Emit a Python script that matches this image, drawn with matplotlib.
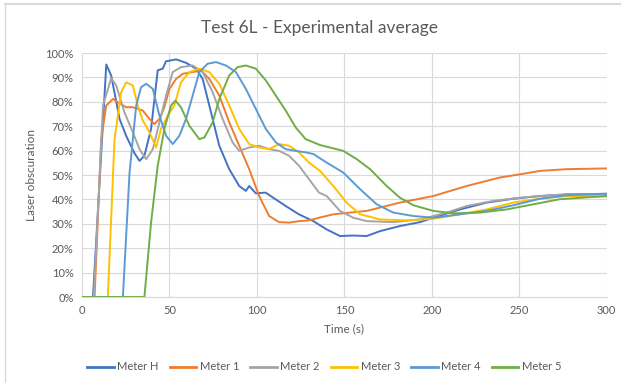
import matplotlib.pyplot as plt
from matplotlib.lines import Line2D
from matplotlib.ticker import PercentFormatter

# values (time in s, obscuration in %)
meter_h_t = [0, 6.3, 13.9, 16.7, 21.5, 25.3, 30, 32.9, 35.7, 39.5, 43.3, 46.2, 48, 53.8, 59.5,
             65.2, 69, 72.8, 78.5, 84.2, 89.9, 93.7, 95.6, 99.4, 105, 110.8, 116.5, 124, 132.3,
             139.9, 147.5, 155.1, 162.8, 170.4, 181.8, 193.3, 200.9, 216.1, 231.4, 246.6, 261.9,
             277.1, 300]
meter_h_v = [0, 0, 95.3, 90.8, 73, 66, 59, 55.8, 57.9, 68.9, 92.9, 93.6, 96.6, 97.4, 96,
             93.6, 89.4, 78.5, 62, 52.4, 45.5, 43.5, 45.5, 42.5, 42.8, 40, 37.3, 33.9, 31.1,
             27.7, 25, 25.2, 25, 27, 29.1, 30.7, 32.5, 35.9, 38.7, 40.3, 41.4,
             42.1, 42.1]

meter_1_t = [0, 7.2, 11, 13.9, 17.7, 20.5, 25.3, 29.1, 34.8, 38.6, 41.4, 44.3, 47.1, 50, 53.8,
             57.6, 63.3, 68, 72.8, 78.5, 84.2, 89.9, 95.6, 101.3, 107, 112.7, 118.4, 124.1,
             129.8, 135.5, 143.7, 162.8, 181.8, 200.9, 219.9, 239, 250.4, 261.9, 277.1, 300]
meter_1_v = [0, 0, 64.7, 78.5, 81.2, 79.8, 77.8, 77.8, 76.4, 73, 70.9, 73, 77.8, 85.3, 89.4,
             91.5, 92.2, 92.9, 89.4, 82.6, 71.6, 62, 52.4, 41.4, 33.2, 30.7, 30.5, 31.1,
             31.4, 32.5, 33.9, 35.3, 38.7, 41.4, 45.5, 49, 50.3, 51.7, 52.4, 52.7]

meter_2_t = [0, 6.8, 12, 16.7, 19.6, 24.3, 29.1, 32.9, 36.7, 40.5, 44.3, 48.1, 51.9, 56.6, 63.3,
             69, 74.7, 80.4, 86.1, 89.9, 95.6, 101.3, 107, 112.7, 118.4, 124.1, 129.8, 135.5,
             139.9, 147.5, 155.1, 162.8, 178, 193.3, 208.5, 219.9, 235.2, 250.4, 269.5, 300]
meter_2_v = [0, 0, 78.5, 89.7, 86.7, 75.7, 67.5, 60.6, 56.5, 60.6, 71.6, 82.6, 92.2, 94.2, 94.9,
             92.2, 84, 73, 63.4, 59.9, 61.3, 62, 60.6, 59.9, 57.9, 53.8, 48.3, 42.8,
             41.4, 35.3, 32.5, 31.1, 30.7, 31.8, 34.6, 37.3, 39.4, 40.7, 41.8, 42.1]

meter_3_t = [0, 14.8, 18.6, 22.4, 25.3, 29.1, 31.9, 34.8, 38.6, 42.4, 45.2, 49, 52.8, 56.6, 61.4,
             67.1, 72.8, 78.5, 84.2, 89.9, 95.6, 101.3, 107, 112.7, 118.4, 124.1, 129.8, 136.1,
             143.7, 151.3, 159, 170.4, 185.6, 200.9, 216.1, 231.4, 246.6, 261.9, 277.1, 300]
meter_3_v = [0, 0, 64.7, 84, 88, 86.7, 78.5, 72.3, 67.5, 61.3, 68.9, 74.3, 78.5, 88, 92.2,
             93.6, 92.2, 87.4, 78.5, 68.9, 62.7, 61.3, 60.6, 62.7, 62, 59.3, 55.1, 51.7,
             45.5, 38.7, 33.9, 31.8, 31.4, 32.1, 33.9, 35.9, 38.7, 40.3, 41.4, 41.2]

meter_4_t = [0, 23.4, 27.2, 31, 33.8, 36.7, 40.5, 44.3, 48.1, 51.9, 55.7, 59.5, 63.3, 67.1, 71.8,
             76.6, 82.3, 88, 93.7, 99.4, 105.1, 110.8, 116.5, 122.2, 127.9, 132.3, 139.9,
             149.4, 159, 168.5, 178, 189.5, 200.9, 216.1, 231.4, 246.6, 261.9, 277.1, 300]
meter_4_v = [0, 0, 51, 78.5, 86, 87.4, 85.3, 74.3, 66.1, 62.7, 66.1, 73, 82.6, 92.2, 95.6,
             96.3, 94.9, 92.2, 85.3, 77.1, 68.9, 63.4, 60.6, 59.9, 59.3, 58.6, 55.1,
             51, 44.2, 38, 34.6, 33.2, 32.5, 33.9, 35.3, 37.6, 40.3, 41.7, 42.4]

meter_5_t = [0, 35.7, 39.5, 43.3, 47.1, 50.9, 53.4, 56.6, 61.4, 67.1, 70, 74.7, 78.5, 84.2, 88.9,
             93.7, 99.4, 105.1, 110.8, 116.5, 122.2, 127.9, 136.1, 149.4, 157.1, 164.7, 174.2,
             181.8, 189.5, 200.9, 212.3, 227.6, 242.8, 258, 273.3, 300]
meter_5_v = [0, 0, 30.5, 53.8, 68.9, 78.5, 80.5, 77.8, 70.2, 64.7, 65.4, 71.6, 81.2, 90.8, 94.2,
             94.9, 93.6, 88.8, 82.6, 76.4, 69.5, 64.7, 62.3, 59.9, 56.5, 52.4, 45.5,
             40.7, 37.6, 35.3, 34.3, 34.6, 35.9, 38, 40.1, 41.4]

series = [
    ("Meter H", meter_h_t, meter_h_v, "#4472C4"),
    ("Meter 1", meter_1_t, meter_1_v, "#ED7D31"),
    ("Meter 2", meter_2_t, meter_2_v, "#A5A5A5"),
    ("Meter 3", meter_3_t, meter_3_v, "#FFC000"),
    ("Meter 4", meter_4_t, meter_4_v, "#5B9BD5"),
    ("Meter 5", meter_5_t, meter_5_v, "#70AD47"),
]

plt.rcParams["font.family"] = ["Lato", "DejaVu Sans"]
text_col = "#595959"

fig = plt.figure(figsize=(6.21, 3.83), dpi=100)
ax = fig.add_axes([0.132, 0.2245, 0.845, 0.637])

for name, t, v, col in series:
    ax.plot(t, v, color=col, lw=1.4, label=name)

ax.set_xlim(0, 300)
ax.set_ylim(0, 100)
ax.set_xticks(range(0, 301, 50))
ax.set_yticks(range(0, 101, 10))
ax.yaxis.set_major_formatter(PercentFormatter(decimals=0))
ax.grid(True, color="#D9D9D9", lw=0.8)
ax.set_axisbelow(True)
for side in ("top", "right", "left"):
    ax.spines[side].set_visible(False)
ax.spines["bottom"].set_color("#D9D9D9")
ax.tick_params(length=0, colors=text_col, labelsize=8, pad=6)

ax.set_xlabel("Time (s)", color=text_col, fontsize=8.5, labelpad=5)
ax.set_ylabel("Laser obscuration", color=text_col, fontsize=8.5, labelpad=6)
fig.text(0.515, 0.928, "Test 6L - Experimental average", ha="center", va="center",
         color=text_col, fontsize=12.5)

handles = [Line2D([], [], color=c, lw=2) for _, _, _, c in series]
fig.legend(handles, [s[0] for s in series], loc="center", bbox_to_anchor=(0.522, 0.042),
           ncol=6, frameon=False, fontsize=8, labelcolor=text_col, handlelength=2.4,
           handletextpad=0.3, columnspacing=1.0)

# light frame around the chart area
fig.add_artist(Line2D([0.008, 0.008], [0, 0.99], transform=fig.transFigure, color="#D9D9D9", lw=1))
fig.add_artist(Line2D([0.008, 1], [0.99, 0.99], transform=fig.transFigure, color="#D9D9D9", lw=1.5))

fig.savefig("out.png", dpi=100, facecolor="white")
